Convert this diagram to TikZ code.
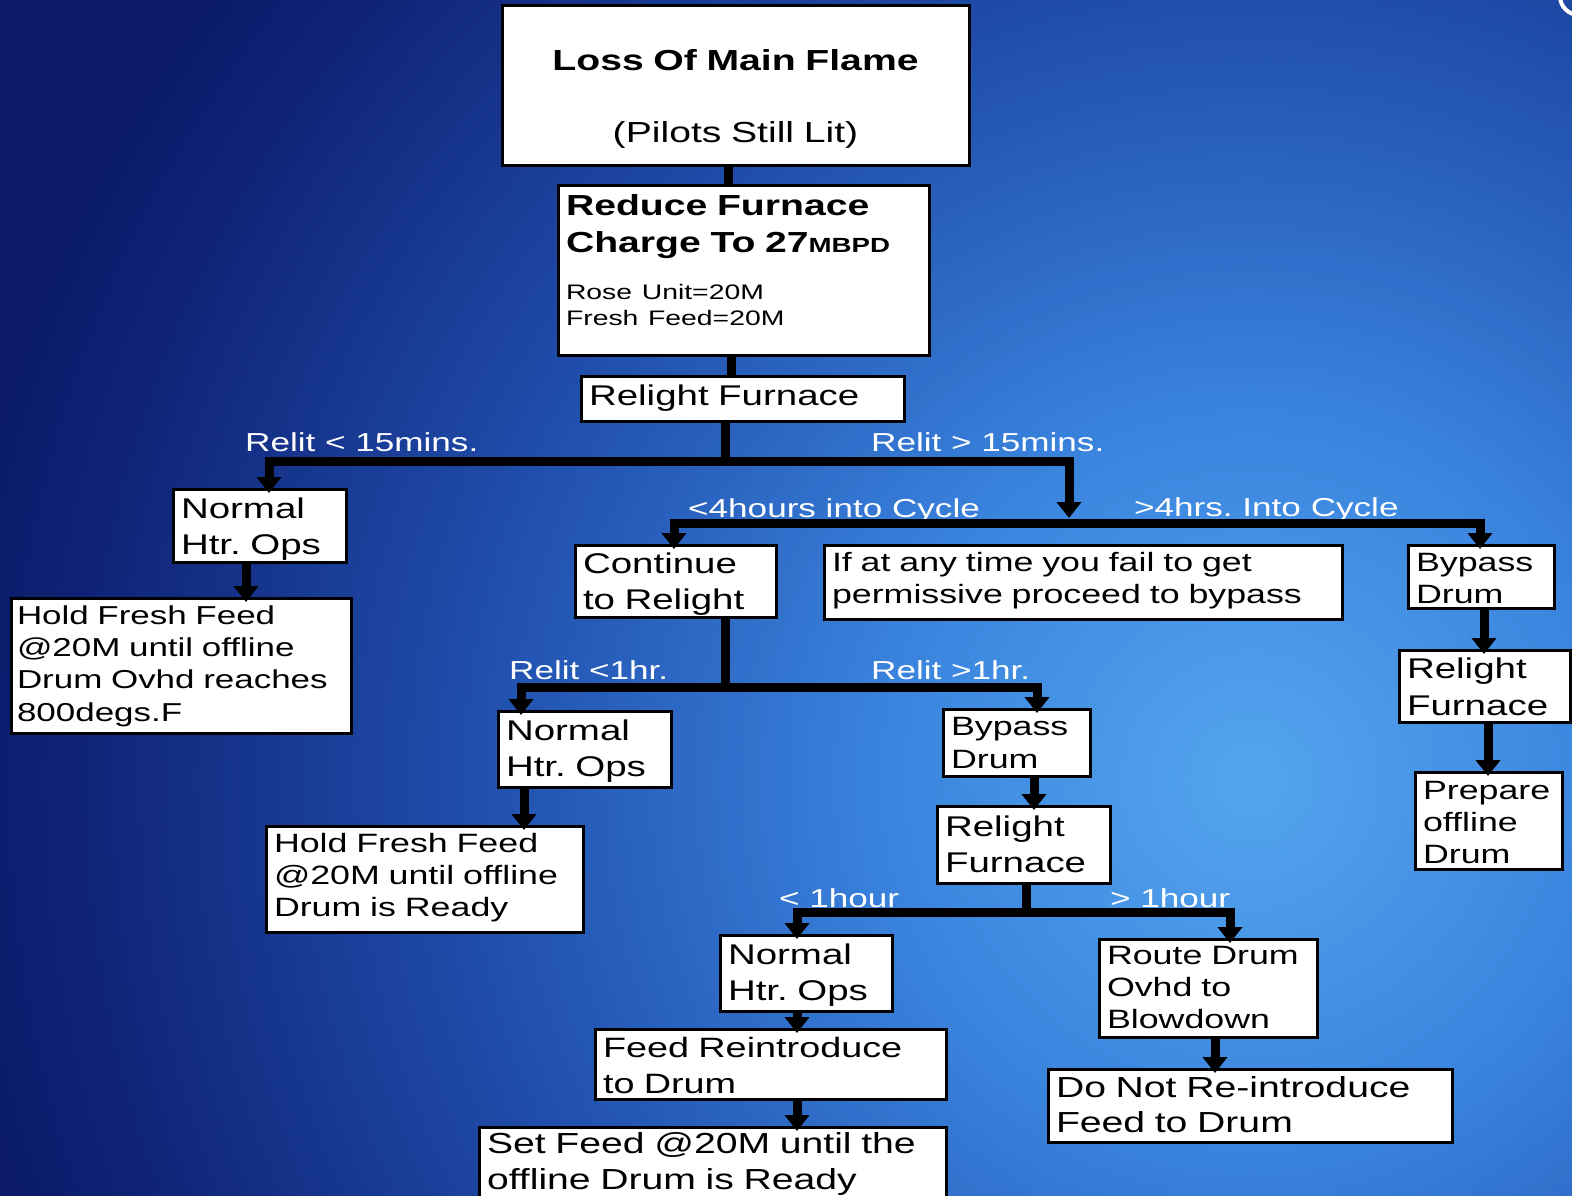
\documentclass[tikz,border=0pt]{standalone}
\usepackage{fontspec}
\setmainfont{Liberation Sans}[FakeStretch=1.35]
\usetikzlibrary{arrows.meta}
\frenchspacing

\definecolor{bgnavy}{RGB}{10,26,105}
\definecolor{bgdeep}{RGB}{16,38,122}
\definecolor{bgmid}{RGB}{32,78,172}
\definecolor{bgsky}{RGB}{58,132,222}
\definecolor{bglight}{RGB}{85,165,238}
\pgfdeclareradialshading{bgglow}{\pgfpoint{0bp}{0bp}}{%
  color(0bp)=(bglight); color(7bp)=(bgsky); color(15bp)=(bgmid);
  color(22bp)=(bgdeep); color(25bp)=(bgnavy); color(50bp)=(bgnavy)}

\begin{document}
\begin{tikzpicture}[x=1pt,y=-1pt,
  box/.style={draw=black, line width=3pt, fill=white, text=black, anchor=north west,
    outer sep=0pt, inner xsep=8pt, inner ysep=0pt, align=left},
  big/.style={font=\fontsize{28.5}{36}\selectfont},
  small/.style={font=\fontsize{26.5}{32.4}\selectfont},
  cond/.style={text=white, anchor=base west, inner sep=0pt, font=\fontsize{26}{30}\selectfont},
  link/.style={draw=black, line width=9pt},
  flow/.style={link, -{Triangle[width=24pt,length=16pt]}, shorten >=-4pt}]

% ===================== BACKGROUND =====================
\useasboundingbox (0,0) rectangle (1572,1196);
\fill[bgnavy] (0,0) rectangle (1572,1196);
\begin{scope}
  \clip (0,0) rectangle (1572,1196);
  \shade[shading=bgglow] (1250,780) circle (1300pt);
  \draw[white, line width=4pt] (1579,-4) circle (19pt);
\end{scope}

% ===================== BRANCH LABELS =====================
\node[cond] (lt15m) at (245,451) {Relit < 15mins.};
\node[cond] (gt15m) at (871,451) {Relit > 15mins.};
\node[cond] (lt4h) at (688,517) {<4hours into Cycle};
\node[cond] (gt4h) at (1134,516) {>4hrs. Into Cycle};
\node[cond] (lt1hr) at (509,679) {Relit <1hr.};
\node[cond] (gt1hr) at (871,679) {Relit >1hr.};
\node[cond] (lt1hour) at (779,907) {< 1hour};
\node[cond] (gt1hour) at (1110,907) {> 1hour};

% ===================== TOP =====================
\node[box, align=center, text width=451pt, text height=65pt, text depth=95pt,
  font=\fontsize{29}{36}\selectfont] (loss) at (502,6)
  {\textbf{Loss Of Main Flame}\\[36pt](Pilots Still Lit)};
\node[box, text width=355pt, text height=30pt, text depth=140pt,
  font=\fontsize{29}{37}\selectfont] (reduce) at (558,185)
  {\textbf{Reduce Furnace}\\\textbf{Charge To 27{\fontsize{20.5}{24}\selectfont MBPD}}\\[10pt]%
   {\fontsize{21}{26}\selectfont Rose Unit=20M}\\[-11pt]{\fontsize{21}{26}\selectfont Fresh Feed=20M}};
\node[box, big, text width=307pt, text height=29pt, text depth=16pt] (relight1) at (581,376) {Relight Furnace};

% ===================== RELIT < 15 MINS =====================
\node[box, big, text width=157pt, text height=29pt, text depth=44pt] (normal1) at (173,489) {Normal\\Htr. Ops};
\node[box, font=\fontsize{25.9}{32.4}\selectfont, inner xsep=6pt, text width=328pt,
  text height=26pt, text depth=109pt] (hold1) at (11,598)
  {Hold Fresh Feed\\@20M until offline\\Drum Ovhd reaches\\800degs.F};

% ===================== RELIT > 15 MINS =====================
\node[box, big, text width=185pt, text height=28pt, text depth=44pt] (contin) at (575,545) {Continue\\to Relight};
\node[box, font=\fontsize{26.5}{32}\selectfont, text width=502pt, text height=26pt, text depth=48pt] (perm) at (824,545)
  {If at any time you fail to get\\permissive proceed to bypass};
\node[box, font=\fontsize{26.5}{32}\selectfont, text width=130pt, text height=26pt, text depth=37pt] (bypass2) at (1408,545) {Bypass\\Drum};
\node[box, font=\fontsize{28.5}{37}\selectfont, text width=155pt, text height=28pt, text depth=44pt] (relight3) at (1399,650) {Relight\\Furnace};
\node[box, font=\fontsize{26.5}{32}\selectfont, text width=131pt, text height=27pt, text depth=70pt] (prepare) at (1415,772) {Prepare\\offline\\Drum};

% ===================== RELIT < / > 1 HR =====================
\node[box, big, text width=157pt, text height=29pt, text depth=47pt] (normal2) at (498,711) {Normal\\Htr. Ops};
\node[box, small, text width=301pt, text height=26pt, text depth=80pt] (hold2) at (266,826)
  {Hold Fresh Feed\\@20M until offline\\Drum is Ready};
\node[box, font=\fontsize{26.5}{33}\selectfont, text width=131pt, text height=26pt, text depth=41pt] (bypass1) at (943,709) {Bypass\\Drum};
\node[box, big, text width=157pt, text height=30pt, text depth=47pt] (relight2) at (937,806) {Relight\\Furnace};

% ===================== < / > 1 HOUR =====================
\node[box, big, text width=156pt, text height=29pt, text depth=47pt] (normal3) at (720,935) {Normal\\Htr. Ops};
\node[box, font=\fontsize{28}{36}\selectfont, text width=335pt, text height=28pt, text depth=42pt] (feed) at (595,1029)
  {Feed Reintroduce\\to Drum};
\node[box, font=\fontsize{29}{36}\selectfont, text width=451pt, text height=26pt, text depth=57pt] (setfeed) at (479,1127)
  {Set Feed @20M until the\\offline Drum is Ready};
\node[box, small, text width=202pt, text height=25pt, text depth=73pt] (route) at (1099,939)
  {Route Drum\\Ovhd to\\Blowdown};
\node[box, font=\fontsize{29}{35}\selectfont, text width=388pt, text height=28pt, text depth=45pt] (donot) at (1048,1069)
  {Do Not Re-introduce\\Feed to Drum};

% ===================== CONNECTORS =====================
\coordinate (j1) at (725,461);
\coordinate (b1l) at (269,461);
\coordinate (b1r) at (1069,461);
\coordinate (b2l) at (674,523);
\coordinate (b2r) at (1480,523);
\coordinate (j3) at (725,687);
\coordinate (b3l) at (521,687);
\coordinate (b3r) at (1037,687);
\coordinate (j4) at (1026,912);
\coordinate (b4l) at (797,912);
\coordinate (b4r) at (1230,912);
% single columns
\coordinate (s1) at (728,0);
\coordinate (s2) at (731,0);
\coordinate (s3) at (246,0);
\coordinate (s4) at (1484,0);
\coordinate (s5) at (1488,0);
\coordinate (s6) at (524,0);
\coordinate (s7) at (1034,0);
\coordinate (s8) at (797,0);
\coordinate (s9) at (1215,0);

\draw[link] (loss.south -| s1) -- (reduce.north -| s1);
\draw[link] (reduce.south -| s2) -- (relight1.north -| s2);

\draw[link] (relight1.south -| j1) -- (j1);
\draw[link, line cap=rect] (b1l) -- (b1r);
\draw[flow] (b1l) -- (b1l |- normal1.north);
\draw[flow, shorten >=5pt] (b1r) -- (b1r |- b2l);
\draw[flow] (normal1.south -| s3) -- (hold1.north -| s3);

\draw[link, line cap=rect] (b2l) -- (b2r);
\draw[flow] (b2l) -- (b2l |- contin.north);
\draw[flow] (b2r) -- (b2r |- bypass2.north);
\draw[flow] (bypass2.south -| s4) -- (relight3.north -| s4);
\draw[flow] (relight3.south -| s5) -- (prepare.north -| s5);

\draw[link] (contin.south -| j3) -- (j3);
\draw[link, line cap=rect] (b3l) -- (b3r);
\draw[flow] (b3l) -- (b3l |- normal2.north);
\draw[flow] (b3r) -- (b3r |- bypass1.north);
\draw[flow] (normal2.south -| s6) -- (hold2.north -| s6);
\draw[flow] (bypass1.south -| s7) -- (relight2.north -| s7);

\draw[link] (relight2.south -| j4) -- (j4);
\draw[link, line cap=rect] (b4l) -- (b4r);
\draw[flow] (b4l) -- (b4l |- normal3.north);
\draw[flow] (b4r) -- (b4r |- route.north);
\draw[flow] (normal3.south -| s8) -- (feed.north -| s8);
\draw[flow] (feed.south -| s8) -- (setfeed.north -| s8);
\draw[flow] (route.south -| s9) -- (donot.north -| s9);

\end{tikzpicture}
\end{document}
